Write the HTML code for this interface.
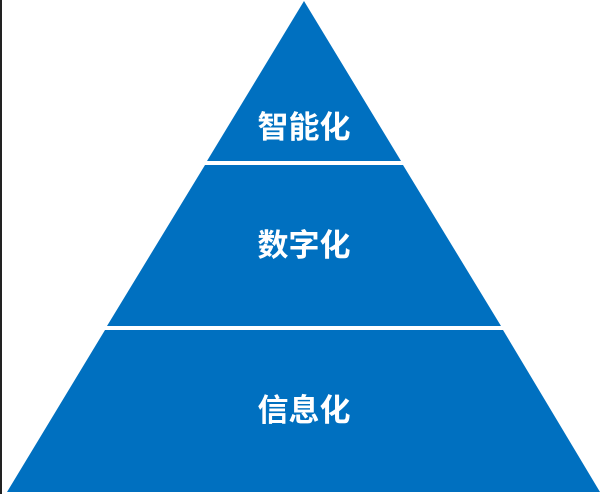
<!DOCTYPE html>
<html><head><meta charset="utf-8"><style>
html,body{margin:0;padding:0;background:#fff;}
body{width:603px;height:494px;overflow:hidden;position:relative;}
svg{position:absolute;left:0;top:0;}
</style></head><body>
<svg width="603" height="494" viewBox="0 0 603 494">
<rect x="0" y="0" width="2" height="494" fill="#222"/>
<polygon points="304,1 401,161 207,161" fill="#0070c0"/>
<polygon points="205,165 403,165 501,326 107,326" fill="#0070c0"/>
<polygon points="105,330 503,330 600,492 7,492" fill="#0070c0"/>
<g font-family="'Liberation Sans','Noto Sans CJK SC',sans-serif" font-weight="bold" font-size="31" fill="#fff" text-anchor="middle">
<text x="304" y="138">智能化</text>
<text x="304" y="256">数字化</text>
<text x="304" y="421">信息化</text>
</g>
</svg>
</body></html>
